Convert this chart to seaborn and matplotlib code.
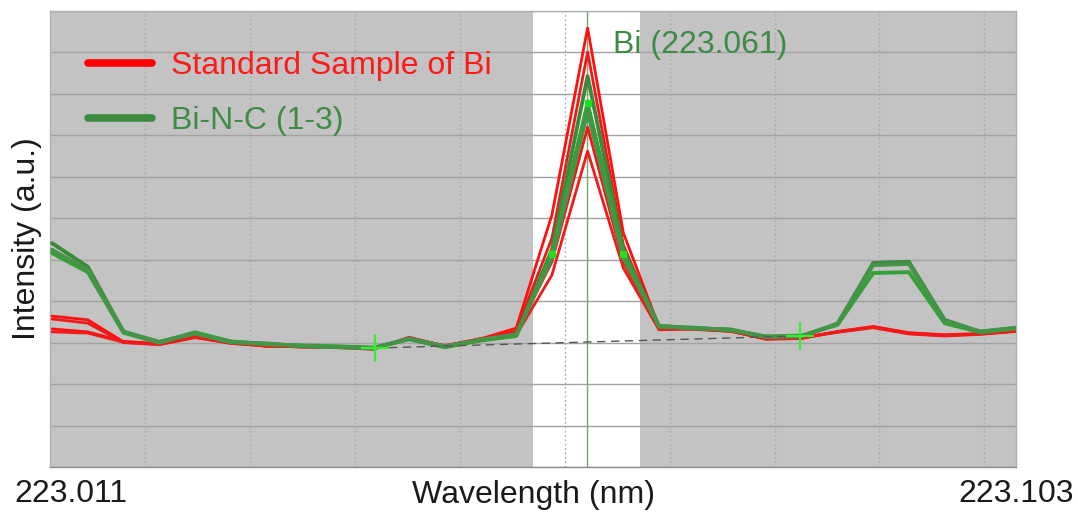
import numpy as np
import pandas as pd
import matplotlib
matplotlib.use("Agg")
import matplotlib.pyplot as plt
import matplotlib.transforms as mtransforms
from matplotlib.lines import Line2D
import seaborn as sns

# ---------------- data ----------------
wl_start = 223.0112
wl_step = 0.0034
n_pts = 28
wavelength = [round(wl_start + i * wl_step, 5) for i in range(n_pts)]

red_1 = [3.64, 3.55, 3.02, 2.97, 3.14, 2.99, 2.92, 2.90, 2.90, 2.85, 3.11, 2.92, 3.09, 3.35,
         6.08, 10.59, 5.65, 3.38, 3.33, 3.28, 3.09, 3.11, 3.26, 3.38, 3.23, 3.18, 3.21, 3.28]
red_2 = [3.57, 3.47, 3.00, 2.95, 3.12, 3.00, 2.93, 2.89, 2.88, 2.84, 3.13, 2.91, 3.07, 3.28,
         5.52, 10.01, 5.36, 3.35, 3.32, 3.27, 3.10, 3.12, 3.25, 3.36, 3.21, 3.16, 3.20, 3.27]
red_3 = [3.33, 3.26, 3.03, 2.98, 3.15, 3.01, 2.91, 2.91, 2.89, 2.86, 3.10, 2.93, 3.08, 3.23,
         4.95, 8.20, 4.95, 3.33, 3.34, 3.29, 3.08, 3.10, 3.27, 3.39, 3.24, 3.19, 3.22, 3.29]
red_4 = [3.26, 3.23, 3.01, 2.96, 3.13, 2.98, 2.92, 2.90, 2.90, 2.85, 3.12, 2.92, 3.10, 3.18,
         4.63, 7.62, 4.80, 3.31, 3.33, 3.28, 3.09, 3.12, 3.26, 3.37, 3.22, 3.17, 3.21, 3.28]

green_1 = [5.40, 4.83, 3.26, 3.02, 3.23, 3.02, 2.97, 2.92, 2.90, 2.87, 3.09, 2.90, 3.06, 3.18,
           5.24, 9.43, 5.24, 3.40, 3.35, 3.31, 3.14, 3.16, 3.45, 4.92, 4.95, 3.55, 3.26, 3.35]
green_2 = [5.16, 4.70, 3.24, 3.00, 3.25, 3.03, 2.96, 2.93, 2.91, 2.88, 3.08, 2.89, 3.05, 3.16,
           5.14, 8.78, 5.14, 3.38, 3.36, 3.30, 3.15, 3.17, 3.43, 4.68, 4.70, 3.47, 3.25, 3.34]
green_3 = [5.24, 4.75, 3.27, 3.01, 3.22, 3.01, 2.98, 2.91, 2.89, 2.86, 3.10, 2.91, 3.07, 3.20,
           5.04, 8.56, 5.04, 3.41, 3.34, 3.32, 3.13, 3.15, 3.46, 4.87, 4.90, 3.52, 3.27, 3.36]

series_names = ["Std 1", "Std 2", "Std 3", "Std 4", "Bi-N-C 1", "Bi-N-C 2", "Bi-N-C 3"]
series_values = [red_1, red_2, red_3, red_4, green_1, green_2, green_3]

legend_labels = ["Standard Sample of Bi", "Bi-N-C (1-3)"]
x_tick_values = [223.011, 223.103]
x_tick_labels = ["223.011", "223.103"]
x_label = "Wavelength (nm)"
y_label = "Intensity (a.u.)"

line_wl = 223.0621
line_label = "Bi (223.061)"
window = [223.0570, 223.0672]
bg_points_wl = [223.04195, 223.08243]
bg_points_y = [2.87, 3.16]
marker_idx = [14, 15, 16]

# ---------------- styling ----------------
RED = "#ff1010"
GREEN_TXT = "#3f8a45"
palette = {"Std 1": RED, "Std 2": "#f01818", "Std 3": RED, "Std 4": "#f21a1a",
           "Bi-N-C 1": "#3b8a3b", "Bi-N-C 2": "#35a035", "Bi-N-C 3": "#46944a"}

sns.set_theme(style="white")
plt.rcParams["font.family"] = ["Liberation Sans", "DejaVu Sans"]

df = pd.DataFrame({
    "wl": np.tile(wavelength, len(series_names)),
    "intensity": np.concatenate(series_values),
    "sample": np.repeat(series_names, n_pts),
})

fig = plt.figure(figsize=(10.78, 5.13), dpi=100)
ax = fig.add_axes([50 / 1078, 46 / 513, 966 / 1078, 456 / 513])
ax.set_facecolor("#c3c3c3")

ax.axvspan(window[0], window[1], color="white", zorder=0.2, lw=0)

sns.lineplot(data=df[df["sample"].str.startswith("Std")], x="wl", y="intensity",
             hue="sample", palette=palette, legend=False, ax=ax, lw=2.0,
             estimator=None, sort=False, zorder=3)
sns.lineplot(data=df[df["sample"].str.startswith("Bi")], x="wl", y="intensity",
             hue="sample", palette=palette, legend=False, ax=ax, lw=2.8,
             estimator=None, sort=False, zorder=3.5)

# peak markers on one green series
ax.plot([wavelength[i] for i in marker_idx], [green_2[i] for i in marker_idx],
        ls="none", marker="s", ms=4.5, color="#22dd22", zorder=5)

# background line & crosses
ax.plot(bg_points_wl, bg_points_y, ls=(0, (6, 4)), color="#555555", lw=1.0, zorder=4)
ax.plot(bg_points_wl, bg_points_y, ls="none", marker="+", ms=20, mew=1.6,
        color="#33ee33", zorder=6)

ax.axvline(line_wl, color="#6aaa6a", lw=1.0, zorder=2.5)
ax.text(line_wl + 0.0025, 10.18, line_label, color=GREEN_TXT, fontsize=23,
        va="center", ha="left", zorder=7)

# axes / grid
ax.set_xlim(223.011, 223.103)
ax.set_ylim(0, 11)
ax.set_yticks(range(12))
ax.set_yticklabels([])
ax.set_xticks(x_tick_values)
ax.set_xticklabels(x_tick_labels, fontsize=23, color="#1a1a1a")
ax.set_xticks(np.arange(223.02, 223.1001, 0.01), minor=True)
ax.tick_params(axis="both", which="both", length=0)
ax.tick_params(axis="x", which="major", pad=9)
ax.set_axisbelow(True)
ax.yaxis.grid(True, color="#a2a2a2", lw=1.0, ls="-")
ax.xaxis.grid(True, which="minor", color="#ababab", lw=0.9, ls=(0, (1.5, 2)))
ax.xaxis.grid(False, which="major")
for s in ax.spines.values():
    s.set_color("#b0b0b0")
    s.set_linewidth(1.0)
ax.spines["bottom"].set_color("#8c8c8c")

lbls = ax.get_xticklabels()
lbls[0].set_transform(lbls[0].get_transform() +
                      mtransforms.ScaledTranslation(21 / 100, 0, fig.dpi_scale_trans))

ax.set_xlabel(x_label, fontsize=23, color="#1a1a1a", labelpad=-21)
ax.set_ylabel(y_label, fontsize=23, color="#1a1a1a", labelpad=2)

handles = [Line2D([0], [0], color="#ff0000", lw=5.5),
           Line2D([0], [0], color="#3d8b3d", lw=5.5)]
leg = ax.legend(handles, legend_labels, loc="upper left", bbox_to_anchor=(38 / 966, 1 - 40 / 456),
                frameon=False, fontsize=23, handlelength=2.0, handletextpad=0.6,
                labelspacing=0.78, borderpad=0, borderaxespad=0)
for t, c in zip(leg.get_texts(), ["#ff1a1a", GREEN_TXT]):
    t.set_color(c)

fig.savefig("out.png", dpi=100)
